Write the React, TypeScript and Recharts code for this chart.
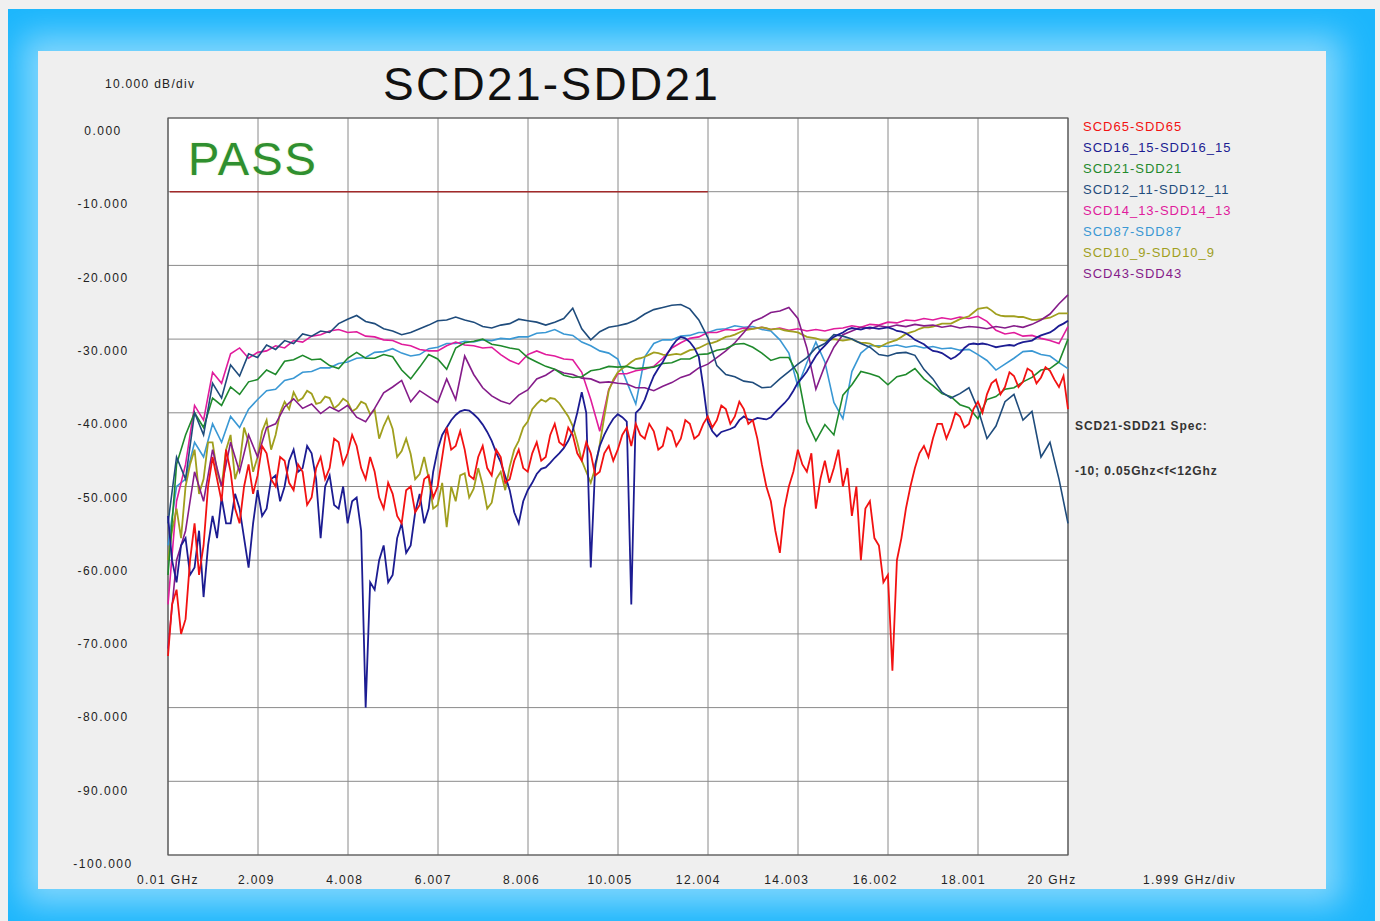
import React from "react";
import {
  CartesianGrid,
  Line,
  LineChart,
  ReferenceArea,
  ReferenceLine,
  XAxis,
  YAxis,
} from "recharts";

// coarse frequency grid, GHz
const freqGHz = [
  0.01, 0.2, 0.4, 0.6, 0.8, 1, 1.2, 1.4, 1.6, 1.8,
  2, 2.2, 2.4, 2.6, 2.8, 3, 3.2, 3.4, 3.6, 3.8,
  4, 4.2, 4.4, 4.6, 4.8, 5, 5.2, 5.4, 5.6, 5.8,
  6, 6.2, 6.4, 6.6, 6.8, 7, 7.2, 7.4, 7.6, 7.8,
  8, 8.2, 8.4, 8.6, 8.8, 9, 9.2, 9.4, 9.6, 9.8,
  10, 10.2, 10.4, 10.6, 10.8, 11, 11.2, 11.4, 11.6, 11.8,
  12, 12.2, 12.4, 12.6, 12.8, 13, 13.2, 13.4, 13.6, 13.8,
  14, 14.2, 14.4, 14.6, 14.8, 15, 15.2, 15.4, 15.6, 15.8,
  16, 16.2, 16.4, 16.6, 16.8, 17, 17.2, 17.4, 17.6, 17.8,
  18, 18.2, 18.4, 18.6, 18.8, 19, 19.2, 19.4, 19.6, 19.8,
  20,
];

// fine grid for the noisiest traces
const fineFreqGHz = [
  0.01, 0.1, 0.2, 0.3, 0.4, 0.5, 0.6, 0.7, 0.8, 0.9,
  1, 1.1, 1.2, 1.3, 1.4, 1.5, 1.6, 1.7, 1.8, 1.9,
  2, 2.1, 2.2, 2.3, 2.4, 2.5, 2.6, 2.7, 2.8, 2.9,
  3, 3.1, 3.2, 3.3, 3.4, 3.5, 3.6, 3.7, 3.8, 3.9,
  4, 4.1, 4.2, 4.3, 4.4, 4.5, 4.6, 4.7, 4.8, 4.9,
  5, 5.1, 5.2, 5.3, 5.4, 5.5, 5.6, 5.7, 5.8, 5.9,
  6, 6.1, 6.2, 6.3, 6.4, 6.5, 6.6, 6.7, 6.8, 6.9,
  7, 7.1, 7.2, 7.3, 7.4, 7.5, 7.6, 7.7, 7.8, 7.9,
  8, 8.1, 8.2, 8.3, 8.4, 8.5, 8.6, 8.7, 8.8, 8.9,
  9, 9.1, 9.2, 9.3, 9.4, 9.5, 9.6, 9.7, 9.8, 9.9,
  10, 10.1, 10.2, 10.3, 10.4, 10.5, 10.6, 10.7, 10.8, 10.9,
  11, 11.1, 11.2, 11.3, 11.4, 11.5, 11.6, 11.7, 11.8, 11.9,
  12, 12.1, 12.2, 12.3, 12.4, 12.5, 12.6, 12.7, 12.8, 12.9,
  13, 13.1, 13.2, 13.3, 13.4, 13.5, 13.6, 13.7, 13.8, 13.9,
  14, 14.1, 14.2, 14.3, 14.4, 14.5, 14.6, 14.7, 14.8, 14.9,
  15, 15.1, 15.2, 15.3, 15.4, 15.5, 15.6, 15.7, 15.8, 15.9,
  16, 16.1, 16.2, 16.3, 16.4, 16.5, 16.6, 16.7, 16.8, 16.9,
  17, 17.1, 17.2, 17.3, 17.4, 17.5, 17.6, 17.7, 17.8, 17.9,
  18, 18.1, 18.2, 18.3, 18.4, 18.5, 18.6, 18.7, 18.8, 18.9,
  19, 19.1, 19.2, 19.3, 19.4, 19.5, 19.6, 19.7, 19.8, 19.9,
  20,
];

// dB values per trace (fine grid)
const scd65 = [
  -73, -66, -64, -70, -68, -60, -55, -62, -58, -50,
  -46, -49, -52, -45, -48, -53, -55, -50, -47, -51,
  -48.5, -44.5, -45.5, -49, -50, -46, -46.5, -49.5, -50.5, -47,
  -48, -52.5, -51.5, -47.5, -46, -49, -47.5, -43.5, -44, -47,
  -45.5, -43, -44.5, -47.5, -49, -46, -48, -51.5, -53, -49.5,
  -51, -54, -55, -50.5, -50, -53.5, -52.5, -49, -48.5, -51.5,
  -50, -46, -42, -45, -44.5, -42.5, -45, -48.5, -49, -46,
  -44.5, -47.5, -48.5, -45, -46, -49.5, -49, -46.5, -45, -47.5,
  -48, -45.5, -44, -46.5, -46, -43, -41.5, -44, -44.5, -42,
  -43, -45.5, -46.5, -44, -45.5, -48.5, -48, -45.5, -44.5, -46.5,
  -45, -43, -42, -44.5, -41.5, -43, -43.5, -41.5, -42.5, -45,
  -44.5, -42, -42.5, -44.5, -43.5, -41, -41.5, -43.5, -43, -41.5,
  -40.5, -42, -41, -39, -39.5, -41.5, -40.5, -38.5, -39.5, -41.5,
  -41, -43.5, -47, -50, -52, -56, -59, -53, -50, -48,
  -45, -47, -48, -45.5, -53, -49, -46.5, -49.5, -47.5, -45,
  -50, -47.5, -54, -50, -60, -53, -52, -57, -58, -63,
  -62, -75, -60, -57, -53, -50, -47.5, -45.5, -44.5, -46,
  -43.5, -41.5, -41.5, -43.5, -42, -40, -40.5, -42, -41.5, -39.5,
  -38.5, -40, -37.5, -36, -35.5, -37.5, -36.5, -34.5, -35, -36.5,
  -35.8, -34, -34.4, -36, -35.2, -33.8, -34.3, -35.5, -36.5, -35,
  -39.5,
];

const scd16_15 = [
  -54, -60, -63, -58, -57, -62, -61, -56, -65, -58,
  -54, -57, -51.5, -55, -55, -51, -53, -57, -61, -55,
  -50.5, -54, -53, -49, -48.5, -52, -50, -46.5, -45, -48,
  -47.5, -44.5, -45.5, -49, -57, -50, -48.5, -52.5, -53, -50,
  -55, -52, -51.5, -56, -80, -63, -64, -60, -58, -63,
  -62, -57, -55, -59, -58, -53.5, -51, -55, -53, -48,
  -45, -43, -42, -41, -40.3, -39.8, -39.6, -39.7, -40.2, -40.8,
  -41.6, -42.6, -43.8, -45.4, -46.7, -48.6, -50.5, -53.5, -55, -52,
  -50.5, -49.5, -48.3, -47.6, -47.4, -46.8, -46.1, -45.5, -44.8, -43.8,
  -42.4, -40, -37.2, -40, -61, -47, -44.5, -43, -41.8, -40.8,
  -40.2, -40.6, -41.2, -66, -40, -39.4, -38.2, -36.5, -35, -34,
  -33.1, -32, -31, -30.2, -29.7, -29.9, -30.4, -31.2, -32.4, -36.5,
  -41.2, -42.5, -43.2, -42.6, -42.4, -42.2, -41.9, -41, -40.5, -40.9,
  -41, -40.7, -40.8, -40.9, -40.6, -39.9, -39.3, -38.7, -38, -37,
  -35.9, -35.2, -34.4, -33.3, -32.3, -31.5, -30.9, -30.2, -29.7, -29.4,
  -29.1, -28.7, -28.5, -28.6, -28.7, -28.5, -28.4, -28.5, -28.6, -28.5,
  -28.4, -28.6, -28.9, -29, -29.2, -29.6, -30.1, -30.4, -30.7, -31.2,
  -31.6, -31.7, -31.9, -32.3, -32.7, -32.4, -31.9, -31.2, -30.7, -30.6,
  -30.7, -30.6, -30.7, -30.9, -31.1, -31, -30.9, -30.8, -30.9, -30.6,
  -30.4, -30.3, -30.2, -29.8, -29.5, -29.3, -29.1, -28.7, -28.2, -27.9,
  -27.5,
];

const scd10_9 = [
  -60, -56, -53, -57, -50, -47, -45, -51, -49, -44,
  -44, -48, -50, -45, -43, -49, -47, -42, -44, -48,
  -46, -42.5, -41, -45, -43, -40, -38.5, -39.5, -37.2, -38.4,
  -38, -37, -37.4, -38.8, -38.6, -37.8, -38, -39.4, -38.9, -38.1,
  -38.5, -39.8, -39.4, -38.5, -38.8, -40.2, -39.6, -43.5, -41.8, -40.5,
  -42.2, -46, -45.2, -43.5, -45.6, -49, -48.3, -46, -48.9, -53,
  -52.5, -49.5, -55.5, -50, -52, -48.5, -48.2, -51.5, -50.3, -47.5,
  -49.8, -53, -52.2, -49, -48, -50.5, -47.3, -45, -43.8, -42,
  -41.2, -39.5, -38.8, -38.2, -38.5, -38, -38.1, -38.7, -39.6, -40.5,
  -41.8, -44, -46.5, -48, -49.5, -47.5, -44.3, -40.5, -37, -35.5,
  -34.5, -34, -33.6, -33.1, -32.7, -32.6, -32.4, -32.1, -31.8, -31.9,
  -32.1, -32.2, -32.1, -32, -32.1, -31.8, -31.5, -31.4, -31.2, -30.9,
  -30.6, -30.5, -30.3, -30, -29.7, -29.6, -29.4, -29.1, -28.8, -28.7,
  -28.6, -28.5, -28.4, -28.5, -28.7, -28.6, -28.6, -28.8, -28.9, -29,
  -29.1, -29.4, -29.7, -29.8, -29.9, -30.1, -30.2, -30.1, -30, -30.1,
  -30.2, -30.1, -30, -30.3, -30.5, -30.5, -30.6, -30.9, -31.1, -30.8,
  -30.5, -30.3, -30.1, -29.7, -29.3, -29.1, -28.9, -28.6, -28.4, -28.4,
  -28.3, -28.1, -27.9, -27.9, -27.9, -27.6, -27.3, -27.1, -26.9, -26.4,
  -25.9, -25.8, -25.7, -26.1, -26.6, -26.8, -26.9, -26.9, -26.9, -27,
  -27, -27.2, -27.4, -27.4, -27.3, -27.2, -27.1, -26.8, -26.5, -26.5,
  -26.5,
];

// dB values per trace (coarse grid)
const scd21 = [
  -62, -47, -43, -40, -42, -38, -39, -36.5, -37.5, -35.8,
  -35.5, -34.2, -34.8, -33, -32.8, -32.2, -32.8, -32.7, -33.6, -34,
  -32.6, -31.8, -32.6, -32.6, -32.1, -32.4, -34.2, -35.4, -33.8, -32.1,
  -32.7, -34.1, -31.2, -30.5, -30.3, -30, -30.7, -30.9, -31.2, -31.4,
  -32.5, -33.1, -33.7, -34.1, -34.9, -35.2, -35.1, -34.3, -34.1, -33.7,
  -33.8, -33.7, -34, -33.9, -33.8, -33.3, -33.2, -32.7, -32.7, -32.1,
  -32, -31.5, -31.3, -30.7, -30.6, -31.1, -31.9, -32.9, -32.5, -32.5,
  -34.8, -41.2, -43.8, -41.6, -43, -37.6, -36.2, -34.4, -34.7, -35.1,
  -36.2, -35.1, -34.8, -34, -35.4, -36.3, -37.4, -37.8, -38.9, -39.3,
  -40.8, -38.2, -37.8, -36.8, -36.6, -35.8, -35.2, -34.2, -34, -33.1,
  -30,
];

const scd12_11 = [
  -55, -46, -49, -40, -43, -36, -38, -33.5, -35, -32,
  -32.5, -30.8, -31.4, -30.2, -30.6, -29.3, -29.6, -28.9, -29.1, -27.9,
  -27.3, -26.8, -27.6, -27.9, -28.6, -28.9, -29.4, -29.1, -28.6, -28.1,
  -27.5, -27.4, -27, -27.4, -27.7, -28.3, -28.5, -28.1, -27.9, -27.3,
  -27.5, -27.7, -28.1, -27.7, -27.2, -25.8, -28.6, -30.1, -29, -28.4,
  -28.2, -27.9, -27.4, -26.6, -26, -25.7, -25.4, -25.3, -25.9, -27.4,
  -29.8, -33.6, -34.8, -35.1, -35.7, -35.9, -36.6, -36.5, -35.4, -34.4,
  -33.4, -32.5, -31.2, -30.6, -29.4, -29.6, -30, -30.6, -31.1, -32.1,
  -32.3, -31.9, -31.8, -32.2, -34.1, -35.4, -37.2, -38, -37.4, -36.6,
  -39.5, -43.5, -41.8, -38.5, -37.5, -41, -39.8, -46, -44, -49,
  -55,
];

const scd14_13 = [
  -66, -52, -47, -39, -41, -34.5, -36, -32, -31.2, -32.6,
  -31.8, -31.6, -30.9, -31.2, -30.2, -30.4, -29.6, -29.4, -28.9, -28.7,
  -29.1, -29, -29.6, -29.7, -30.1, -30.2, -30.7, -30.9, -31.4, -31.6,
  -31.6, -30.9, -30.4, -30.8, -30.9, -31.2, -31.1, -32.1, -32.9, -33.4,
  -32.1, -31.6, -32.1, -32.3, -32.7, -32.8, -34.5, -38.2, -42.5, -36.8,
  -34.7, -34.7, -34.3, -34.1, -33.7, -32.6, -31.2, -30.5, -29.9, -29.7,
  -29.1, -29.1, -28.7, -28.8, -28.5, -28.6, -28.4, -28.7, -28.5, -28.8,
  -28.6, -28.9, -28.7, -28.9, -28.6, -28.5, -28.2, -28.4, -28, -28.1,
  -27.7, -27.8, -27.4, -27.5, -27.2, -27.4, -27.1, -27.3, -27, -27.2,
  -26.9, -27.6, -28.8, -29.3, -29.1, -29.6, -29.5, -29.9, -30.2, -30.6,
  -28.3,
];

const scd87 = [
  -58, -50, -49, -44, -46, -41.5, -44, -40.5, -42, -39.5,
  -38.2, -37, -36.8, -35.6, -35.3, -34.5, -34.4, -33.9, -33.9, -33.3,
  -33.1, -32.6, -32.5, -31.8, -31.7, -31.3, -31.9, -32.3, -32.1, -31.3,
  -31.1, -30.6, -30.6, -30.3, -30.4, -30.1, -30.2, -29.9, -30, -29.7,
  -29.7, -29.2, -29.1, -28.7, -29.3, -29.5, -30.4, -30.9, -31.6, -31.9,
  -32.7, -35.8, -38.8, -32.4, -30.6, -30.1, -30.1, -29.6, -29.5, -29.1,
  -29.1, -28.7, -28.6, -28.2, -28.4, -28.3, -28.7, -28.9, -30.1, -31.9,
  -36.4, -33.2, -30.4, -33.1, -38.6, -40.8, -34.4, -31.9, -30.9, -30.9,
  -31, -30.8, -31.1, -30.9, -31.2, -31, -31.3, -31.2, -31.5, -31.4,
  -32.1, -32.9, -34.2, -33.4, -32.6, -31.7, -31.6, -32.1, -32.3, -33.2,
  -34,
];

const scd43 = [
  -72, -60, -56, -48, -52, -45, -50, -44, -48, -43,
  -46, -42, -41.5, -39.2, -38.1, -39.4, -38.8, -40.1, -39.2, -39.8,
  -39, -40.6, -41.2, -39.4, -37.3, -36.5, -35.6, -38.5, -37, -37.8,
  -38.6, -35.4, -38.2, -32.3, -34.8, -36.6, -37.7, -38.4, -38.8, -37.6,
  -36.9, -35.4, -34.9, -34.1, -34.6, -34.8, -35.3, -35.4, -35.9, -35.8,
  -36, -36.1, -36.6, -36.6, -37, -36.4, -35.9, -35.2, -34.8, -33.9,
  -33.4, -32.5, -31.6, -30.5, -29.1, -27.6, -27.1, -26.4, -26.2, -25.7,
  -27.2, -31.2, -36.8, -33.6, -31.1, -29.4, -28.9, -28.4, -28.6, -28.2,
  -28.4, -28.1, -28.3, -28, -28.2, -28.1, -28.4, -28.2, -28.5, -28.3,
  -28.4, -28.6, -28.3, -28.5, -28.2, -28.4, -28, -27.4, -26.6, -25.2,
  -24,
];

const xTicks = [0.01, 2.009, 4.008, 6.007, 8.006, 10.005, 12.004, 14.003, 16.002, 18.001, 20];
const xTickLabels = ["0.01 GHz", "2.009", "4.008", "6.007", "8.006", "10.005", "12.004", "14.003", "16.002", "18.001", "20 GHz"];
const yTicks = [0, -10, -20, -30, -40, -50, -60, -70, -80, -90, -100];

const specLimit = -10;
const specStartGHz = 0.05;
const specEndGHz = 12;

// legend order
const series = [
  { key: "scd65", name: "SCD65-SDD65", color: "#f21212", values: scd65, fine: true },
  { key: "scd16_15", name: "SCD16_15-SDD16_15", color: "#1c1c92", values: scd16_15, fine: true },
  { key: "scd21", name: "SCD21-SDD21", color: "#1f8a2c", values: scd21, fine: false },
  { key: "scd12_11", name: "SCD12_11-SDD12_11", color: "#1f4c7c", values: scd12_11, fine: false },
  { key: "scd14_13", name: "SCD14_13-SDD14_13", color: "#e01c9c", values: scd14_13, fine: false },
  { key: "scd87", name: "SCD87-SDD87", color: "#3a98d4", values: scd87, fine: false },
  { key: "scd10_9", name: "SCD10_9-SDD10_9", color: "#a09f1e", values: scd10_9, fine: true },
  { key: "scd43", name: "SCD43-SDD43", color: "#851c8a", values: scd43, fine: false },
];

// bottom to top
const drawOrder = ["scd87", "scd14_13", "scd10_9", "scd43", "scd21", "scd12_11", "scd16_15", "scd65"];

const buildRows = (freqs: number[], fine: boolean) =>
  freqs.map((f, i) => {
    const r: Record<string, number> = { f };
    series.filter((s) => s.fine === fine).forEach((s) => {
      r[s.key] = s.values[i];
    });
    return r;
  });

const rows = buildRows(freqGHz, false);
const rowsFine = buildRows(fineFreqGHz, true);

const FONT = "'Liberation Sans', Arial, sans-serif";

function XTick(props: any) {
  const { x, y, payload } = props;
  const i = xTicks.indexOf(payload.value);
  const shift = -(payload.value / 20) * 16;
  return (
    <text x={x + shift} y={y + 21} textAnchor="middle" fontSize={12} fill="#222" letterSpacing={1.4} fontFamily={FONT}>
      {xTickLabels[i]}
    </text>
  );
}

function YTick(props: any) {
  const { x, y, payload } = props;
  return (
    <text x={x - 57} y={y + 17 + payload.value * 0.04} textAnchor="middle" fontSize={12} fill="#222" letterSpacing={1.5} fontFamily={FONT}>
      {payload.value.toFixed(3)}
    </text>
  );
}

const abs = (left: number, top: number): React.CSSProperties => ({
  position: "absolute",
  left,
  top,
  whiteSpace: "nowrap",
});

export default function App() {
  return (
    <div style={{ position: "absolute", left: 0, top: 0, width: 1380, height: 921, background: "#f0f0f0", overflow: "hidden", fontFamily: FONT }}>
      <div style={{ position: "absolute", left: 8, top: 9, width: 1367, height: 912, background: "#1cb6fc", overflow: "hidden" }}>
        <div
          style={{
            position: "absolute",
            left: 30,
            top: 42,
            width: 1288,
            height: 838,
            background: "#efefef",
            boxShadow: "0 0 30px 16px #80d6fd",
          }}
        />
      </div>

      <div style={{ position: "absolute", left: 0, top: 0 }}>
        <LineChart width={1380} height={921} margin={{ top: 118, right: 312, left: 108, bottom: 36 }}>
          <CartesianGrid stroke="#8a8a8a" fill="#ffffff" fillOpacity={1} />
          <XAxis
            dataKey="f"
            type="number"
            domain={[0.01, 20]}
            ticks={xTicks}
            interval={0}
            height={30}
            axisLine={false}
            tickLine={false}
            allowDuplicatedCategory={false}
            tick={<XTick />}
          />
          <YAxis
            type="number"
            domain={[-100, 0]}
            ticks={yTicks}
            interval={0}
            width={60}
            axisLine={false}
            tickLine={false}
            tick={<YTick />}
          />
          <ReferenceArea x1={0.01} x2={20} y1={-100} y2={0} fill="none" stroke="#555" strokeWidth={1.2} />
          {drawOrder.map((k) => {
            const s = series.find((d) => d.key === k)!;
            return (
              <Line
                key={k}
                data={s.fine ? rowsFine : rows}
                type="linear"
                dataKey={k}
                name={s.name}
                stroke={s.color}
                strokeWidth={s.fine ? 1.8 : 1.6}
                dot={false}
                isAnimationActive={false}
              />
            );
          })}
          <ReferenceLine
            segment={[
              { x: specStartGHz, y: specLimit },
              { x: specEndGHz, y: specLimit },
            ]}
            stroke="#a22a2a"
            strokeWidth={1.5}
          />
        </LineChart>
      </div>

      <div style={{ ...abs(105, 77), fontSize: 12, lineHeight: "14px", letterSpacing: 1.3, color: "#222" }}>10.000 dB/div</div>
      <div style={{ ...abs(383, 61), fontSize: 46, lineHeight: "46px", letterSpacing: 2.3, color: "#111" }}>SCD21-SDD21</div>
      <div style={{ ...abs(188, 135), fontSize: 47, lineHeight: "47px", letterSpacing: 2, color: "#2f8f2f", textShadow: "0 0 2px #d8ecb0" }}>PASS</div>

      {series.map((s, i) => (
        <div key={s.key} style={{ ...abs(1083, 120 + i * 21), fontSize: 13, lineHeight: "14px", letterSpacing: 1, color: s.color }}>
          {s.name}
        </div>
      ))}

      <div style={{ ...abs(1075, 419), fontSize: 12, lineHeight: "14px", fontWeight: 700, letterSpacing: 0.9, color: "#333" }}>SCD21-SDD21 Spec:</div>
      <div style={{ ...abs(1075, 464), fontSize: 12, lineHeight: "14px", fontWeight: 700, letterSpacing: 0.9, color: "#333" }}>-10; 0.05Ghz&lt;f&lt;12Ghz</div>
      <div style={{ ...abs(1143, 873), fontSize: 12, lineHeight: "14px", letterSpacing: 1.3, color: "#222" }}>1.999 GHz/div</div>
    </div>
  );
}
